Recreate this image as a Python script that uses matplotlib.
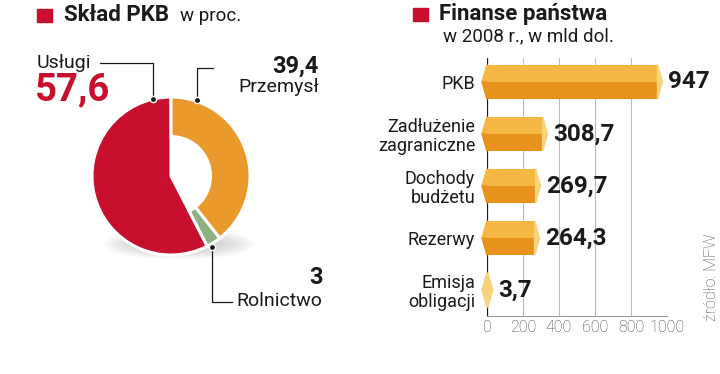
import numpy as np
import matplotlib.pyplot as plt
from matplotlib.patches import Polygon, Rectangle, Ellipse

plt.rcParams['font.family'] = ['Roboto', 'DejaVu Sans']

# Skład PKB, w proc.
sectors = ['Usługi', 'Rolnictwo', 'Przemysł']
shares = [57.6, 3, 39.4]
share_labels = ['57,6', '3', '39,4']

# Finanse państwa, w 2008 r., w mld dol.
items = ['PKB', 'Zadłużenie\nzagraniczne', 'Dochody\nbudżetu', 'Rezerwy', 'Emisja\nobligacji']
amounts = [947, 308.7, 269.7, 264.3, 3.7]
amount_labels = ['947', '308,7', '269,7', '264,3', '3,7']
xticks = [0, 200, 400, 600, 800, 1000]

RED = '#c8102e'
ORANGE = '#e99a2a'
GREEN = '#8fb082'
LIGHT = '#f4b743'
DARK = '#e8921e'
PALE = '#f8d27c'
INK = '#1a1a1a'

fig = plt.figure(figsize=(7.2, 3.74), dpi=100)

# ---- donut ----
cx, cy, r = 171, 176, 79
half = 92
axp = fig.add_axes([(cx - half) / 720, (374 - cy - half) / 374, 2 * half / 720, 2 * half / 374])
wedges, _ = axp.pie(shares, colors=[RED, GREEN, ORANGE], startangle=90, counterclock=True,
                    wedgeprops=dict(width=0.5, edgecolor='white', linewidth=2.2))
wedges[0].set_width(1.0)
# soft shadow under the donut
for i in range(18):
    axp.add_patch(Ellipse((0.1, -0.86), 1.95 - 0.06 * i, 0.40 - 0.016 * i, color='#808080',
                          alpha=0.018, lw=0, zorder=0))
axp.set_xlim(-half / r, half / r)
axp.set_ylim(-half / r, half / r)
axp.axis('off')

# ---- bars ----
ax = fig.add_axes([487 / 720, 58 / 374, 180 / 720, 258 / 374])
y = np.arange(len(items))
h = 0.67
d = 28
ax.barh(y - h / 4, amounts, height=h / 2, color=LIGHT, zorder=3)
ax.barh(y + h / 4, amounts, height=h / 2, color=DARK, zorder=3)
for yi, v, lab in zip(y, amounts, amount_labels):
    top, bot = (LIGHT, DARK) if v > 20 else (PALE, PALE)
    ax.add_patch(Polygon([(0, yi - h / 2), (-d, yi), (0, yi)], color=top, zorder=3, clip_on=False))
    ax.add_patch(Polygon([(0, yi), (-d, yi), (0, yi + h / 2)], color=bot, zorder=3, clip_on=False))
    ax.add_patch(Polygon([(v, yi - h / 2), (v + d, yi), (v, yi + h / 2)], color=PALE, zorder=3,
                         clip_on=False))
    ax.annotate(lab, (v + d, yi), xytext=(4, 0), textcoords='offset points', va='center',
                ha='left', fontsize=17.5, fontweight='bold', color=INK, annotation_clip=False)
ax.axvline(0, color=INK, lw=1.6, zorder=2)
ax.set_xlim(0, 1000)
ax.set_ylim(4.5, -0.46)
ax.set_xticks(xticks)
ax.set_yticks(y, items)
ax.grid(axis='x', color='#bdbdbd', lw=0.8)
ax.set_axisbelow(True)
for s in ['top', 'right', 'left']:
    ax.spines[s].set_visible(False)
ax.spines['bottom'].set_color('#9a9a9a')
ax.tick_params(axis='x', length=0, pad=3, labelsize=11.5, labelcolor='#444444')
ax.tick_params(axis='y', length=0, pad=8.5, labelsize=13, labelcolor=INK)
for t in ax.get_xticklabels():
    t.set_fontweight('light')
for t in ax.get_yticklabels():
    t.set_linespacing(1.05)

# ---- texts and connectors ----
ov = fig.add_axes([0, 0, 1, 1], zorder=5)
ov.set_xlim(0, 720)
ov.set_ylim(374, 0)
ov.axis('off')
ov.patch.set_alpha(0)

ov.add_patch(Rectangle((37, 9), 15, 13, color=RED))
ov.text(64, 15, 'Skład PKB', fontsize=16, fontweight='bold', va='center', color=INK)
ov.text(180, 16, 'w proc.', fontsize=13.5, va='center', color=INK)

ov.add_patch(Rectangle((413, 8), 15, 13, color=RED))
ov.text(439, 14, 'Finanse państwa', fontsize=16, fontweight='bold', va='center', color=INK)
ov.text(443, 36, 'w 2008 r., w mld dol.', fontsize=13.5, va='center', color=INK)

# Usługi
ov.text(37, 63, sectors[0], fontsize=14, va='center', color=INK)
ov.text(35, 90, share_labels[0], fontsize=27.5, fontweight='bold', va='center', color=RED)
ov.plot([100, 153, 153], [63, 63, 99], color=INK, lw=0.9)
ov.plot([153], [99], 'o', color=INK, ms=4.5, mec='white', mew=1)
# Przemysł
ov.text(319, 66, share_labels[2], fontsize=17, fontweight='bold', va='center', ha='right', color=INK)
ov.text(319, 87, sectors[2], fontsize=14, va='center', ha='right', color=INK)
ov.plot([213, 197, 197], [68, 68, 100], color=INK, lw=0.9)
ov.plot([197], [100], 'o', color=INK, ms=4.5, mec='white', mew=1)
# Rolnictwo
ov.text(323, 278, share_labels[1], fontsize=17, fontweight='bold', va='center', ha='right', color=INK)
ov.text(236, 301, sectors[1], fontsize=14, va='center', ha='left', color=INK)
ov.plot([212, 212, 232], [247, 302, 302], color=INK, lw=0.9)
ov.plot([212], [247], 'o', color=INK, ms=4.5, mec='white', mew=1)

ov.text(712, 277, 'źródło: MFW', fontsize=11.5, rotation=90, va='center', ha='center',
        color='#555555', fontweight='light')

fig.savefig('out.png', dpi=100)
